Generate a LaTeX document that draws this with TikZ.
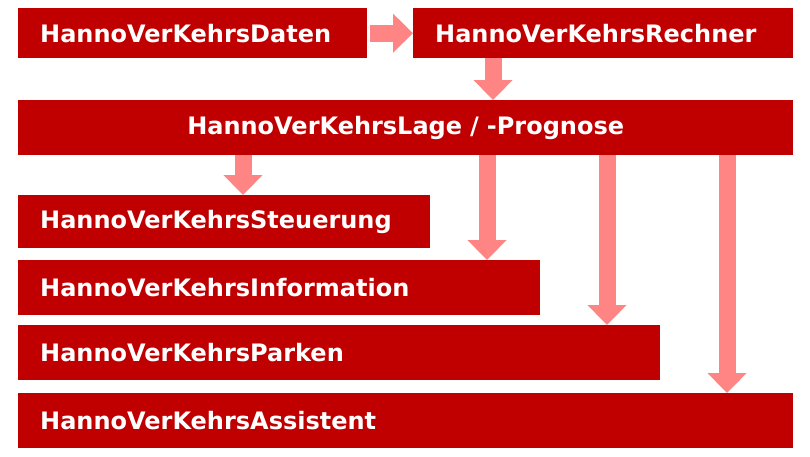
\documentclass[tikz,border=0pt]{standalone}
\usepackage{fontspec}
\setmainfont{DejaVu Sans}
\usetikzlibrary{arrows.meta}
\definecolor{boxred}{HTML}{C00000}
\definecolor{arrowpink}{HTML}{FF8585}
\tikzset{every node/.style={align=left}}
\tikzset{bar/.style={fill=boxred, text=white, font=\bfseries\fontsize{24}{28}\selectfont, inner sep=0pt, anchor=north west, minimum height=50pt}}
\tikzset{fatarrow/.style={draw=arrowpink, line width=17pt, -{Triangle[width=38pt,length=20pt]}}}
\begin{document}
\begin{tikzpicture}[x=1pt, y=-1pt]
  \useasboundingbox (0,0) rectangle (810,456);
  % boxes
  \node[bar, minimum width=349pt, text width=327pt] (daten) at (18,8) {\hspace*{11pt}HannoVerKehrsDaten};
  \node[bar, minimum width=380pt, text width=358pt] (rechner) at (413,8) {\hspace*{11pt}HannoVerKehrsRechner};
  \node[bar, minimum width=775pt, minimum height=55pt, align=center, text width=775pt] (lage) at (18,100) {HannoVerKehrsLage / -Prognose};
  \node[bar, minimum width=412pt, minimum height=53pt, text width=390pt] (steuer) at (18,195) {\hspace*{11pt}HannoVerKehrsSteuerung};
  \node[bar, minimum width=522pt, minimum height=55pt, text width=500pt] (info) at (18,260) {\hspace*{11pt}HannoVerKehrsInformation};
  \node[bar, minimum width=642pt, minimum height=55pt, text width=620pt] (parken) at (18,325) {\hspace*{11pt}HannoVerKehrsParken};
  \node[bar, minimum width=775pt, minimum height=55pt, text width=753pt] (assist) at (18,393) {\hspace*{11pt}HannoVerKehrsAssistent};
  % arrows
  \draw[fatarrow] (daten.east) ++(3,0) -- (rechner.west);
  \draw[fatarrow] (rechner.south -| 493,0) -- (lage.north -| 493,0);
  \draw[fatarrow] (lage.south -| 243,0) -- (steuer.north -| 243,0);
  \draw[fatarrow] (lage.south -| 487,0) -- (info.north -| 487,0);
  \draw[fatarrow] (lage.south -| 607,0) -- (parken.north -| 607,0);
  \draw[fatarrow] (lage.south -| 727,0) -- (assist.north -| 727,0);
\end{tikzpicture}
\end{document}
